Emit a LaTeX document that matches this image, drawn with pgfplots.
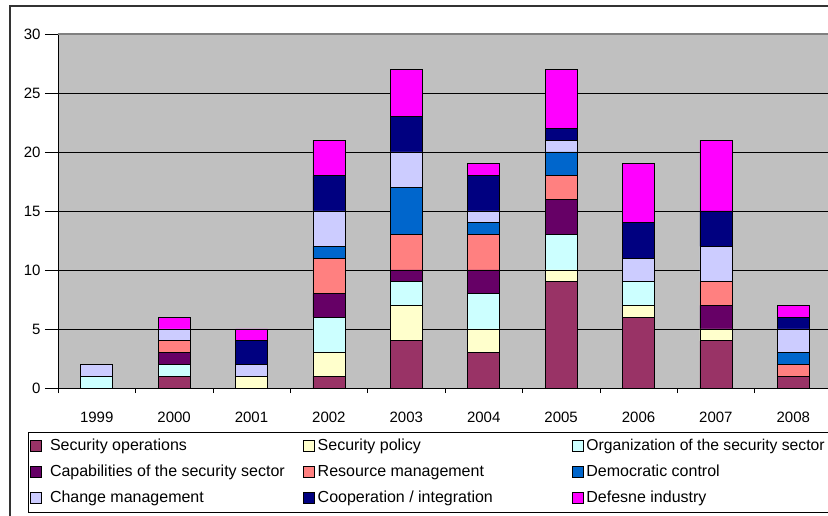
\documentclass[border=0pt]{standalone}
\usepackage{pgfplots}
\pgfplotsset{compat=1.18}
\usepackage{pgfplotstable}
\usepackage{fontspec}
\setmainfont{Liberation Sans}
\definecolor{cSO}{HTML}{993366}
\definecolor{cSP}{HTML}{FFFFCC}
\definecolor{cORG}{HTML}{CCFFFF}
\definecolor{cCAP}{HTML}{660066}
\definecolor{cRM}{HTML}{FF8080}
\definecolor{cDC}{HTML}{0066CC}
\definecolor{cCM}{HTML}{CCCCFF}
\definecolor{cCO}{HTML}{000080}
\definecolor{cDI}{HTML}{FF00FF}
\definecolor{bggray}{HTML}{C0C0C0}
\pgfplotstableread{
x SO SP ORG CAP RM DC CM CO DI
1 0 0 1 0 0 0 1 0 0
2 1 0 1 1 1 0 1 0 1
3 0 1 0 0 0 0 1 2 1
4 1 2 3 2 3 1 3 3 3
5 4 3 2 1 3 4 3 3 4
6 3 2 3 2 3 1 1 3 1
7 9 1 3 3 2 2 1 1 5
8 6 1 2 0 0 0 2 3 5
9 4 1 0 2 2 0 3 3 6
10 1 0 0 0 1 1 2 1 1
}\datatable
\pgfplotsset{
  mylegend/.style={legend image code/.code={%
    \draw[##1,draw=black,line width=0.6bp] (0bp,-1bp) rectangle (11bp,10bp);
    \path (14bp,0bp);}},
}
\newcommand{\cA}[1]{\makebox[258bp][l]{\hspace*{5bp}#1}}
\newcommand{\cB}[1]{\makebox[254bp][l]{#1}}
\newcommand{\cC}[1]{\makebox[241bp][l]{#1}}
\begin{document}
\begin{tikzpicture}
\useasboundingbox (0bp,0bp) rectangle (828bp,516bp);
\begin{scope}
\clip (0bp,0bp) rectangle (828bp,516bp);
\fill[white] (0bp,0bp) rectangle (828bp,516bp);
\draw[line width=1.5bp, draw=black!80] (10bp,-20bp) rectangle (860bp,510bp);
\begin{axis}[
  at={(58bp,128bp)}, anchor=south west,
  scale only axis, width=774bp, height=354bp,
  ybar stacked, bar width=32bp,
  xmin=0.5, xmax=10.5, ymin=0, ymax=30,
  enlargelimits=false,
  axis background/.style={fill=bggray},
  axis lines*=left,
  axis line style={black, line width=0.8bp},
  ytick={0,5,...,30},
  ymajorgrids, grid style={black, line width=0.6bp},
  xtick={1,...,10},
  xticklabels={1999,2000,2001,2002,2003,2004,2005,2006,2007,2008},
  minor xtick={0.5,1.5,...,10.5},
  tick align=outside,
  major tick length=13bp, minor tick length=5bp,
  xtick style={draw=none},
  minor x tick style={draw=black, line width=0.6bp},
  ytick style={draw=black, line width=0.6bp},
  every tick label/.append style={font=\fontsize{15bp}{18bp}\selectfont},
  /pgf/number format/assume math mode=true,
  xticklabel style={yshift=-8bp},
  yticklabel style={xshift=-1bp},
  every axis plot post/.append style={mylegend, draw=black, line width=0.8bp},
  legend columns=3,
  legend style={at={(-0.03876,-0.1243)}, anchor=north west, draw=black, line width=0.6bp, fill=white,
    inner xsep=2bp, inner ysep=7bp, column sep=0pt, row sep=12bp,
    font=\fontsize{16bp}{19bp}\selectfont,
    nodes={inner sep=0pt, text height=11bp, text depth=3bp, anchor=base west}},
]
\addplot[fill=cSO] table[x=x,y=SO]{\datatable};
\addlegendentry{\cA{Security operations}}
\addplot[fill=cSP] table[x=x,y=SP]{\datatable};
\addlegendentry{\cB{Security policy}}
\addplot[fill=cORG] table[x=x,y=ORG]{\datatable};
\addlegendentry{\cC{\fontsize{15.7bp}{19bp}\selectfont Organization of the security sector}}
\addplot[fill=cCAP] table[x=x,y=CAP]{\datatable};
\addlegendentry{\cA{Capabilities of the security sector}}
\addplot[fill=cRM] table[x=x,y=RM]{\datatable};
\addlegendentry{\cB{Resource management}}
\addplot[fill=cDC] table[x=x,y=DC]{\datatable};
\addlegendentry{\cC{Democratic control}}
\addplot[fill=cCM] table[x=x,y=CM]{\datatable};
\addlegendentry{\cA{Change management}}
\addplot[fill=cCO] table[x=x,y=CO]{\datatable};
\addlegendentry{\cB{Cooperation / integration}}
\addplot[fill=cDI] table[x=x,y=DI]{\datatable};
\addlegendentry{\cC{Defesne industry}}
\draw[draw=gray, line width=1.5bp] (rel axis cs:0,1) -- (rel axis cs:1,1);
\end{axis}
\end{scope}
\end{tikzpicture}
\end{document}
